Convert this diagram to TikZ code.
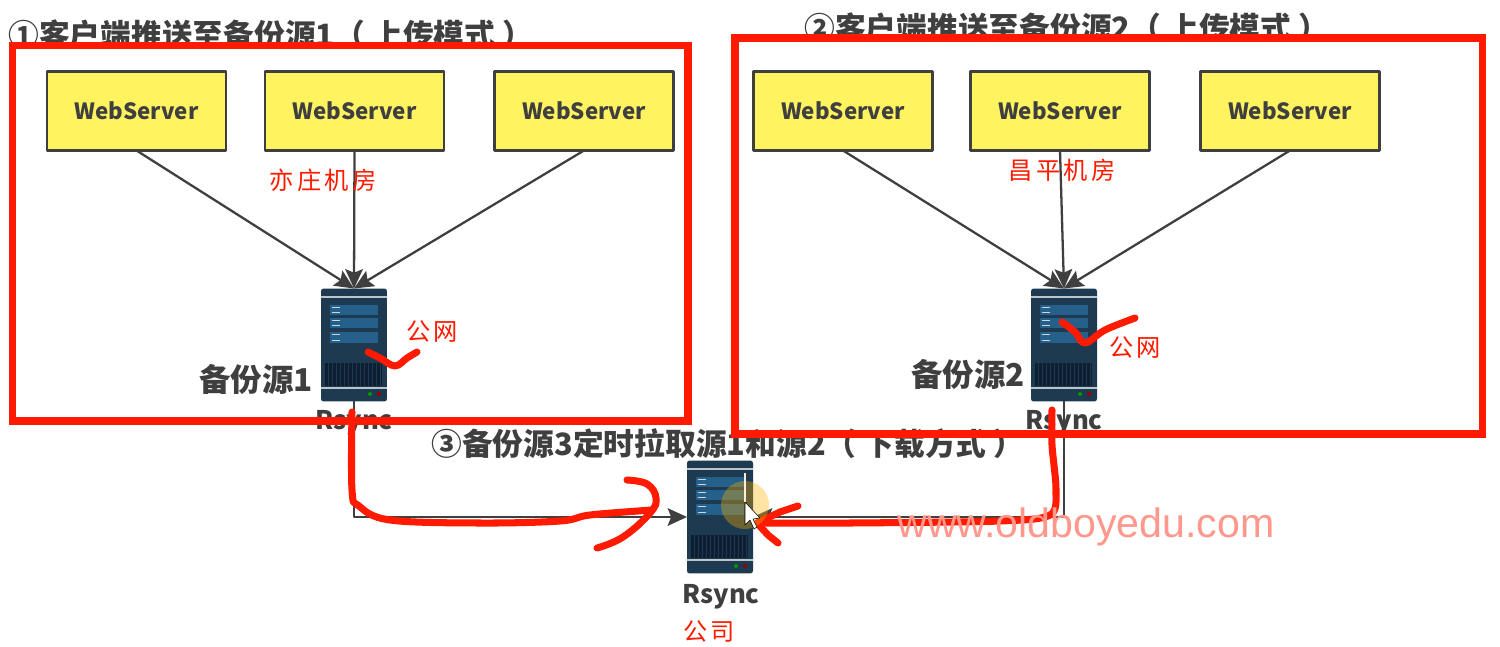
\documentclass[tikz,border=0pt]{standalone}
\usepackage{fontspec}
\usetikzlibrary{arrows.meta}
\setmainfont{Liberation Sans}
\newfontfamily\cjk{Noto Sans CJK SC}
\newfontfamily\cjkspaced[LetterSpace=14]{Noto Sans CJK SC}
\definecolor{inkgray}{HTML}{3F3F3F}
\definecolor{boxyellow}{HTML}{FFF35F}
\definecolor{markred}{HTML}{FF1A00}
\definecolor{srvbody}{HTML}{1D3A50}
\definecolor{srvpanel}{HTML}{24608A}
\definecolor{srvgrille}{HTML}{0C1E30}
\tikzset{
	webbox/.style={draw=inkgray,line width=1.2pt,fill=boxyellow,minimum width=3.58cm,minimum height=1.58cm,inner sep=0pt,outer sep=0pt,text=inkgray,font=\cjk\bfseries\fontsize{12.7}{14}\selectfont},
	srvbox/.style={fill=srvbody,rounded corners=1.5pt,minimum width=1.32cm,minimum height=2.26cm,inner sep=0pt,outer sep=0pt},
	flow/.style={draw=inkgray,line width=1.3pt,-{Stealth[length=11pt,width=10pt,inset=2pt]}},
	title/.style={text=inkgray,font=\cjk\bfseries\fontsize{17.5}{20}\selectfont,inner sep=0pt},
	srvname/.style={text=inkgray,font=\cjk\bfseries\fontsize{14.6}{17}\selectfont,inner sep=0pt},
	srcname/.style={text=inkgray,font=\cjk\bfseries\fontsize{17.9}{20}\selectfont,inner sep=0pt},
	redtag/.style={text=markred,font=\cjkspaced\fontsize{13.8}{16}\selectfont,inner sep=0pt},
	redframe/.style={draw=markred,line width=4pt,line join=miter},
	scribble/.style={draw=markred,line width=4pt,line cap=round,line join=round},
	serverpic/.pic={
		\draw[white!70!srvbody,line width=0.9pt] (-33,-48) -- (33,-48) (-33,43) -- (33,43);
		\foreach \ya/\yb in {-40/-30,-27/-17,-13/-2}{
			\fill[srvpanel] (-24,\ya) rectangle (24,\yb);
			\draw[white!75!srvpanel,line width=0.7pt] (-22,\ya+2.5) -- (-14,\ya+2.5) (-22,\yb-2.5) -- (-14,\yb-2.5);
		}
		\fill[srvgrille] (-29,18) rectangle (28,41);
		\foreach \i in {-26,-22,...,26}{
			\draw[srvbody,line width=0.4pt] (\i,18) -- (\i,41);
		}
		\fill[green!60!black] (16,49) circle (2);
		\fill[red!60!black] (25,49) circle (2);
	}
}
\begin{document}
\begin{tikzpicture}[x=0.02cm,y=-0.02cm,line join=round]
	\useasboundingbox (0,0) rectangle (1500,646);
	\fill[white] (0,0) rectangle (1500,646);
	% titles
	\node[title,anchor=west] (titleA) at (8,35) {①客户端推送至备份源1（ 上传模式 ）};
	\node[title,anchor=west] (titleB) at (804,28) {②客户端推送至备份源2（ 上传模式 ）};
	\node[title,anchor=west] (titleC) at (431,444) {③备份源3定时拉取源1和源2（ 下载方式 ）};
	% web servers
	\node[webbox] (webA) at (136.5,111) {WebServer};
	\node[webbox] (webB) at (354.5,111) {WebServer};
	\node[webbox] (webC) at (584,111) {WebServer};
	\node[webbox] (webD) at (843,111) {WebServer};
	\node[webbox] (webE) at (1060,111) {WebServer};
	\node[webbox] (webF) at (1290,111) {WebServer};
	% backup servers
	\node[srvbox] (bakA) at (354,345) {};
	\node[srvbox] (bakB) at (1064,345) {};
	\node[srvbox] (bakC) at (720,517) {};
	\pic at (bakA.center) {serverpic};
	\pic at (bakB.center) {serverpic};
	\pic at (bakC.center) {serverpic};
	\node[srvname] (nameA) at (354,423) {Rsync};
	\node[srvname] (nameB) at (1064,423) {Rsync};
	\node[srvname] (nameC) at (721,597) {Rsync};
	\node[srcname] (srcA) at (256,380) {备份源1};
	\node[srcname] (srcB) at (968,375) {备份源2};
	% connectors
	\draw[flow] (webA.south) -- (bakA.north);
	\draw[flow] (webB.south) -- (bakA.north);
	\draw[flow] (webC.south) -- (bakA.north);
	\draw[flow] (webD.south) -- (bakB.north);
	\draw[flow] (webE.south) -- (bakB.north);
	\draw[flow] (webF.south) -- (bakB.north);
	\draw[flow] (bakA.south) |- (bakC.west);
	\draw[flow] (bakB.south) |- (bakC.east);
	% hand marks
	\draw[redframe] (12.5,45.5) rectangle (688,421);
	\draw[redframe] (735,38) rectangle (1482,434);
	\draw[scribble] plot[smooth,tension=0.6] coordinates {(352,412) (352,490) (359,506) (390,520) (480,523) (560,521) (590,515) (652,510)};
	\draw[scribble] plot[smooth,tension=0.7] coordinates {(627,480) (647,484) (656,498) (650,513) (623,537) (597,548)};
	\draw[scribble] plot[smooth,tension=0.5] coordinates {(1052,410) (1052,445) (1056,490) (1050,515) (1000,521) (850,523) (757,523)};
	\draw[scribble] (798,506) -- (780,512) -- (757,523) -- (768,535) -- (778,543);
	\draw[scribble] plot[smooth,tension=0.6] coordinates {(368,352) (380,358) (395,366) (407,358) (417,352)};
	\draw[scribble] plot[smooth,tension=0.6] coordinates {(1062,322) (1075,332) (1085,343) (1105,330) (1135,318)};
	\node[redtag] (roomA) at (323,180) {亦庄机房};
	\node[redtag] (roomB) at (1062,170) {昌平机房};
	\node[redtag] (netA) at (432,332) {公网};
	\node[redtag] (netB) at (1135,348) {公网};
	\node[redtag] (siteC) at (709,631) {公司};
	\node[text=markred!45!white,font=\fontsize{23.4}{26}\selectfont,inner sep=0pt] (site) at (1086,527) {www.oldboyedu.com};
	% cursor
	\fill[orange!60!yellow,opacity=0.35] (745,505) circle (24);
	\draw[white!85!orange,line width=1pt] (745,473) -- (745,502);
	\filldraw[fill=white,draw=black,line width=0.3pt] (745,502) -- (745,525) -- (750,520) -- (754,529) -- (757,527) -- (753,519) -- (760,518) -- cycle;
\end{tikzpicture}
\end{document}
